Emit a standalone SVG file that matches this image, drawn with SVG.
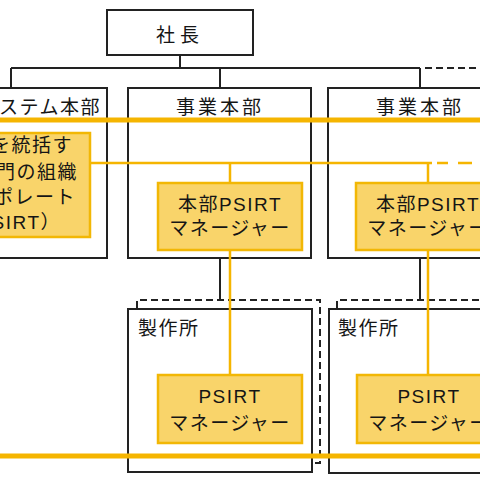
<svg xmlns="http://www.w3.org/2000/svg" width="480" height="480" viewBox="0 0 480 480">
<style>
.box{fill:#fff;stroke:#222;stroke-width:2}
.ybox{fill:#F9D46A;stroke:#F2B705;stroke-width:2.5}
.t{font-family:"Liberation Sans","Noto Sans CJK JP",sans-serif;font-size:19px;fill:#151515;letter-spacing:1.5px}
.c{text-anchor:middle}
.e{text-anchor:end}
.blk{fill:none;stroke:#222;stroke-width:2}
.dash{fill:none;stroke:#222;stroke-width:2;stroke-dasharray:7 4}
.ythick{fill:none;stroke:#F5B500;stroke-width:5}
.ythin{fill:none;stroke:#F5B500;stroke-width:2.5}
</style>
<rect width="480" height="480" fill="#fff"/>
<g id="connectors-org">
<path class="blk" d="M180,55V68M11,68H420M11,68V88M220,68V88M420,68V88M220,258V300M420,258V300"/>
<path class="dash" d="M425,68H480"/>
</g>
<g id="president">
<rect class="box" x="107" y="10" width="146" height="45"/>
<text class="t c" x="180" y="41.5" style="letter-spacing:5px">社長</text>
</g>
<g id="div-system">
<rect class="box" x="-20" y="88" width="127" height="170"/>
<text class="t" x="-1" y="113.5">ステム本部</text>
</g>
<g id="div-business-1">
<rect class="box" x="128" y="88" width="183" height="170"/>
<text class="t c" x="220" y="113.5" style="letter-spacing:3px">事業本部</text>
</g>
<g id="div-business-2">
<rect class="box" x="328" y="88" width="184" height="170"/>
<text class="t c" x="420" y="113.5" style="letter-spacing:3px">事業本部</text>
</g>
<g id="works-1">
<path class="dash" d="M137,308V300H320V463H312"/>
<rect class="box" x="128" y="309" width="184" height="163"/>
<text class="t" x="138" y="335">製作所</text>
</g>
<g id="works-2">
<path class="dash" d="M337,308V300H520"/>
<rect class="box" x="329" y="309" width="184" height="164"/>
<text class="t" x="338" y="335">製作所</text>
</g>
<g id="connectors-psirt">
<path class="ythick" d="M0,120H480"/>
<path class="ythin" d="M90,163H432M437,163H448M458,163H472M230,163V183M428,163V183M230,250V375M428,250V375"/>
</g>
<g id="corporate-psirt">
<rect class="ybox" x="-20" y="133" width="110" height="104"/>
<text class="t e" x="73" y="152">を統括す</text>
<text class="t e" x="78" y="179">門の組織</text>
<text class="t e" x="76" y="204">ポレート</text>
<text class="t e" x="61" y="229">SIRT）</text>
</g>
<g id="hq-psirt-1">
<rect class="ybox" x="158" y="183" width="144" height="67"/>
<text class="t c" x="230" y="210.5">本部PSIRT</text>
<text class="t c" x="230" y="235">マネージャー</text>
</g>
<g id="hq-psirt-2">
<rect class="ybox" x="356" y="183" width="144" height="67"/>
<text class="t c" x="428" y="210.5">本部PSIRT</text>
<text class="t c" x="428" y="235">マネージャー</text>
</g>
<g id="psirt-mgr-1">
<rect class="ybox" x="158" y="375" width="144" height="68"/>
<text class="t c" x="230" y="403">PSIRT</text>
<text class="t c" x="230" y="430">マネージャー</text>
</g>
<g id="psirt-mgr-2">
<rect class="ybox" x="357" y="375" width="144" height="68"/>
<text class="t c" x="429" y="403">PSIRT</text>
<text class="t c" x="429" y="430">マネージャー</text>
</g>
<g id="connectors-bottom">
<path class="ythick" d="M0,456H480"/>
</g>
</svg>
